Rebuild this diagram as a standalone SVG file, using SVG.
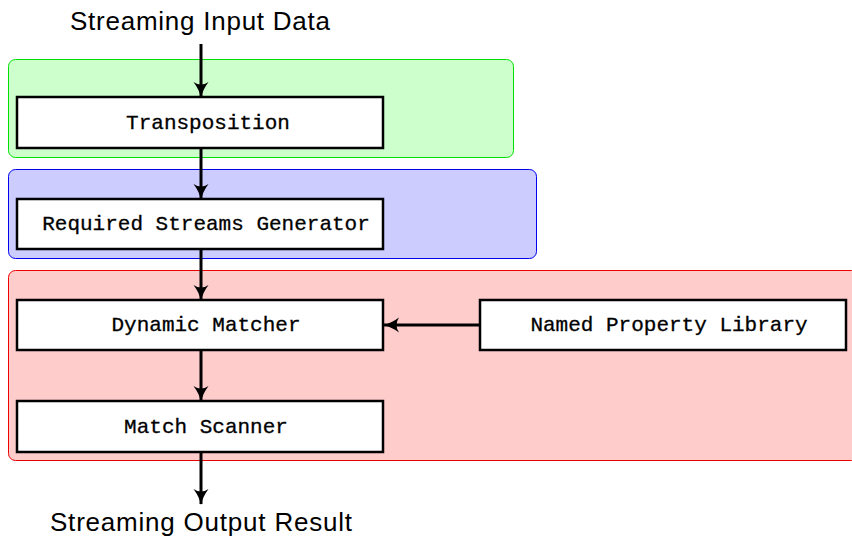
<svg xmlns="http://www.w3.org/2000/svg" width="852" height="541" viewBox="0 0 852 541">
<style>
.sans{font-family:"Liberation Sans",Arial,sans-serif;font-size:26px;fill:#000}
.mono{font-family:"Liberation Mono","DejaVu Sans Mono",monospace;font-size:21px;fill:#000;stroke:#000;stroke-width:0.3;text-anchor:middle}
.node{fill:#fff;stroke:#000;stroke-width:2.5}
.edge{stroke:#000;stroke-width:3;fill:none;marker-end:url(#ah)}
</style>
<defs>
<marker id="ah" markerWidth="18" markerHeight="18" viewBox="0 0 18 18" refX="16" refY="9" orient="auto" markerUnits="userSpaceOnUse">
<path d="M1,1.5 Q9,7.5 17,9 Q9,10.5 1,16.5 Q6,9 1,1.5 Z" fill="#000"/>
</marker>
</defs>
<g id="groups">
<rect id="g-green" x="8.5" y="59.5" width="505" height="98" rx="7" fill="#ccffcc" stroke="#00e000" stroke-width="1"/>
<rect id="g-blue" x="8.5" y="169.5" width="528" height="89" rx="7" fill="#ccccff" stroke="#0000ee" stroke-width="1"/>
<rect id="g-red" x="8.5" y="270.5" width="850" height="190" rx="7" fill="#ffcccc" stroke="#ee0000" stroke-width="1"/>
</g>
<g id="connectors">
<line class="edge" x1="201" y1="44" x2="201" y2="97"/>
<line class="edge" x1="201" y1="148" x2="201" y2="199"/>
<line class="edge" x1="201" y1="249" x2="201" y2="300"/>
<line class="edge" x1="480" y1="325" x2="384" y2="325"/>
<line class="edge" x1="201" y1="350" x2="201" y2="401"/>
<line class="edge" x1="201" y1="452" x2="201" y2="504"/>
</g>
<g id="input"><text class="sans" x="70" y="30" textLength="260">Streaming Input Data</text></g>
<g id="transposition"><rect class="node" x="17" y="97" width="366" height="51"/><text class="mono" x="208" y="129">Transposition</text></g>
<g id="rsg"><rect class="node" x="17" y="199" width="366" height="50"/><text class="mono" x="206" y="230">Required Streams Generator</text></g>
<g id="dm"><rect class="node" x="17" y="300" width="366" height="50"/><text class="mono" x="206" y="331">Dynamic Matcher</text></g>
<g id="npl"><rect class="node" x="480" y="300" width="366" height="50"/><text class="mono" x="669" y="331">Named Property Library</text></g>
<g id="ms"><rect class="node" x="17" y="401" width="366" height="51"/><text class="mono" x="206" y="433">Match Scanner</text></g>
<g id="output"><text class="sans" x="50" y="531" textLength="302">Streaming Output Result</text></g>
</svg>
